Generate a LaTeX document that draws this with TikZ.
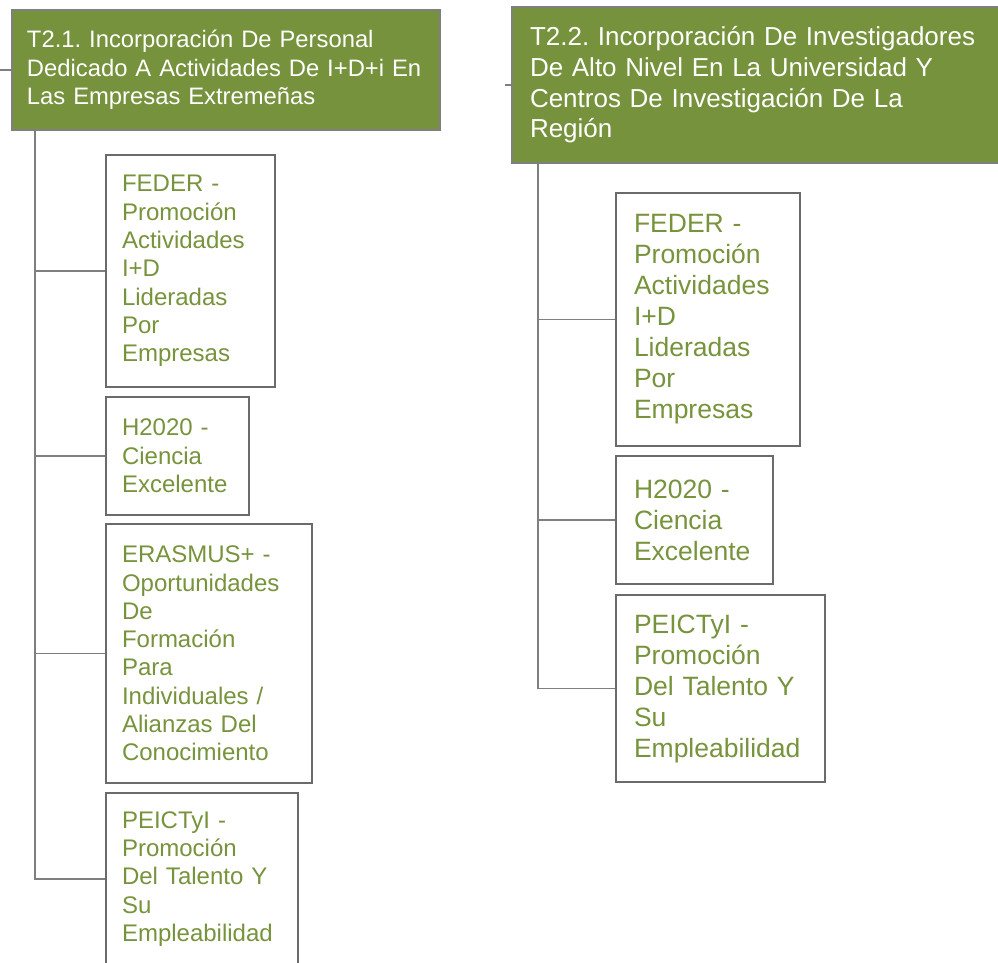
\documentclass[tikz,border=0pt]{standalone}
\usepackage{fontspec}
\setmainfont{Liberation Sans}
\frenchspacing
\definecolor{hdrgreen}{HTML}{76923C}
\definecolor{leafgreen}{HTML}{77933C}
\definecolor{linegray}{HTML}{7F7F7F}
\definecolor{boxgray}{HTML}{6B6B6B}
\begin{document}
\begin{tikzpicture}[x=1pt,y=-1pt,
  hdr/.style={draw=linegray, line width=1.5pt, fill=hdrgreen, text=white, align=left, inner ysep=0pt},
  leaf/.style={draw=boxgray, line width=1.6pt, fill=white, text=leafgreen, align=left, inner ysep=0pt},
  conn/.style={draw=linegray, line width=1.8pt},
  lfont/.style={font=\fontsize{24}{28.3}\selectfont\frenchspacing},
  rfont/.style={font=\fontsize{26.5}{31}\selectfont\frenchspacing}]
\useasboundingbox (0,0) rectangle (998,963);

% ---------- left tree ----------
\node[hdr, minimum width=428pt, minimum height=120pt, inner xsep=15pt, text width=398pt,
      font=\fontsize{23.8}{28.5}\selectfont\frenchspacing] (hdrL) at (226,70)
  {T2.1. Incorporación De Personal\\Dedicado A Actividades De I+D+i En\\Las Empresas Extremeñas};

\node[leaf, lfont, minimum width=169pt, minimum height=232pt, inner xsep=16pt, text width=137pt] (feL) at (190.5,271)
  {FEDER -\\Promoción\\Actividades\\I+D\\Lideradas\\Por\\Empresas};
\node[leaf, lfont, minimum width=143pt, minimum height=118pt, inner xsep=16pt, text width=111pt] (h2L) at (177.5,456)
  {H2020 -\\Ciencia\\Excelente};
\node[leaf, lfont, minimum width=206pt, minimum height=259pt, inner xsep=16pt, text width=174pt] (erL) at (209,653.5)
  {ERASMUS+ -\\Oportunidades\\De\\Formación\\Para\\Individuales /\\Alianzas Del\\Conocimiento};
\node[leaf, lfont, minimum width=192pt, minimum height=172pt, inner xsep=16pt, text width=160pt] (peL) at (202,879)
  {PEICTyI -\\Promoción\\Del Talento Y\\Su\\Empleabilidad};

\coordinate (sL) at (0,70);
\coordinate (tL) at (35,130);
\draw[conn] (sL) -- (hdrL.west);
\draw[conn] (tL) |- (feL.west);
\draw[conn] (tL) |- (h2L.west);
\draw[conn] (tL) |- (erL.west);
\draw[conn] (tL) |- (peL.west);

% ---------- right tree ----------
\node[hdr, minimum width=488pt, minimum height=156pt, inner xsep=18pt, text width=452pt,
      font=\fontsize{26}{30.7}\selectfont\frenchspacing] (hdrR) at (756,85)
  {T2.2. Incorporación De Investigadores\\De Alto Nivel En La Universidad Y\\Centros De Investigación De La\\Región};

\node[leaf, rfont, minimum width=184pt, minimum height=253pt, inner xsep=18pt, text width=148pt] (feR) at (708,319.5)
  {FEDER -\\Promoción\\Actividades\\I+D\\Lideradas\\Por\\Empresas};
\node[leaf, rfont, minimum width=157pt, minimum height=128pt, inner xsep=18pt, text width=121pt] (h2R) at (694.5,520)
  {H2020 -\\Ciencia\\Excelente};
\node[leaf, rfont, minimum width=209pt, minimum height=187pt, inner xsep=18pt, text width=173pt] (peR) at (720.5,688.5)
  {PEICTyI -\\Promoción\\Del Talento Y\\Su\\Empleabilidad};

\coordinate (sR) at (505,85);
\coordinate (tR) at (538,163);
\draw[conn] (sR) -- (hdrR.west);
\draw[conn] (tR) |- (feR.west);
\draw[conn] (tR) |- (h2R.west);
\draw[conn] (tR) |- (peR.west);
\end{tikzpicture}
\end{document}
